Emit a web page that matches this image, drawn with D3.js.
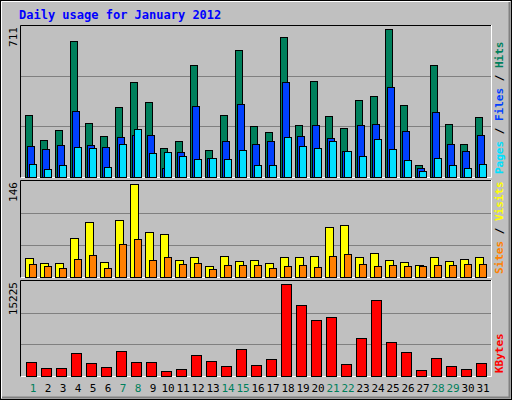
<!DOCTYPE html>
<html><head><meta charset="utf-8">
<script src="https://cdn.jsdelivr.net/npm/d3@7"></script>
<style>body{margin:0;background:#fff}</style>
</head><body>
<script>
// values
const days = d3.range(1, 32)
const weekend = [1,7,8,14,15,21,22,28,29]
const hits = [296,175,224,653,257,195,335,455,359,137,171,537,127,296,610,243,214,673,248,460,291,233,368,388,711,344,55,537,253,156,286]
const files = [146,132,151,315,151,142,190,200,200,40,117,340,88,171,349,156,171,455,195,248,185,122,248,253,431,219,40,311,156,122,200]
const pages = [60,35,55,142,137,45,156,228,113,117,98,84,88,84,127,55,55,190,146,137,171,122,98,180,132,79,26,88,55,40,60]
const visits = [29,21,21,61,86,23,89,146,70,67,26,31,16,32,24,26,21,31,31,32,78,81,31,37,26,23,18,31,24,27,31]
const sites = [20,16,13,27,34,13,51,59,26,31,20,21,12,18,18,18,13,16,18,15,32,35,20,16,18,16,16,18,18,20,20]
const kbytes = [2223,1223,1223,3723,2056,1389,4057,2223,2223,722,1056,3390,2390,1556,4390,1723,2723,15225,11725,9225,9725,1889,6224,12559,5557,3890,889,2890,1556,1056,2056]

const W = 512, H = 400
const svg = d3.select("body").append("svg").attr("width", W).attr("height", H)
const font = "'DejaVu Sans Mono', monospace"

svg.append("rect").attr("x",0).attr("y",0).attr("width",W).attr("height",H).attr("fill","#c0c0c0")
svg.append("rect").attr("x",0.5).attr("y",0.5).attr("width",W-1).attr("height",H-1).attr("fill","none").attr("stroke","#000")
svg.append("path").attr("d",`M1.5,${H-2}V1.5H${W-2}`).attr("fill","none").attr("stroke","#fff")
svg.append("path").attr("d",`M2,${H-2.5}H${W-2.5}V2`).attr("fill","none").attr("stroke","#808080").attr("stroke-width",2)

svg.append("text").attr("x",19).attr("y",19).attr("fill","#0000ff").attr("font-family",font)
  .attr("font-weight","bold").attr("font-size",12).text("Daily usage for January 2012")

const x = d3.scaleLinear().domain([1, 32]).range([25, 25 + 31*15])

function panel(y0, y1, max, label, series, rlabels){
  svg.append("rect").attr("x",20).attr("y",y0).attr("width",472).attr("height",y1-y0).attr("fill","#c0c0c0")
  svg.append("path").attr("d",`M20.5,${y1}V${y0+0.5}H492`).attr("fill","none").attr("stroke","#000")
  svg.append("path").attr("d",`M20.5,${y1-0.5}H491.5V${y0}`).attr("fill","none").attr("stroke","#fff")
  const base = y1 - 1.5
  const top = y0 + 4
  const y = d3.scaleLinear().domain([0, max]).range([base, top])
  const h = base - (y0 + 1)
  ;[1,2].forEach(k => svg.append("line").attr("x1",21).attr("x2",491)
    .attr("y1",Math.round(base - h*k/3)+0.5).attr("y2",Math.round(base - h*k/3)+0.5).attr("stroke","#808080"))
  series.forEach(s => {
    svg.append("g").selectAll("rect").data(s.data).join("rect")
      .attr("x",(d,i) => x(days[i]) + s.off + 0.5)
      .attr("y",d => Math.round(y(d)) + 0.5)
      .attr("width",s.w)
      .attr("height",d => Math.max(0, Math.round(base) - Math.round(y(d))))
      .attr("fill",s.color).attr("stroke","#000")
  })
  svg.append("text").attr("transform",`translate(17,${y0+2}) rotate(-90)`).attr("text-anchor","end")
    .attr("font-family",font).attr("font-size",11).text(label)
  const t = svg.append("text").attr("transform",`translate(503,${y1-4}) rotate(-90)`)
    .attr("font-family",font).attr("font-size",11).attr("font-weight","bold")
  rlabels.forEach((r,i) => {
    if(i) t.append("tspan").attr("fill","#000").text(" / ")
    t.append("tspan").attr("fill",r[1]).text(r[0])
  })
}

panel(25, 178, 711, "711", [
  {data:hits, color:"#00805c", off:0, w:7},
  {data:files, color:"#0040ff", off:2, w:7},
  {data:pages, color:"#00e0ff", off:4, w:7}
], [["Pages","#00e0ff"],["Files","#0040ff"],["Hits","#00805c"]])

panel(180, 278, 146, "146", [
  {data:visits, color:"#ffff00", off:0, w:8},
  {data:sites, color:"#ff8000", off:4, w:7}
], [["Sites","#ff8000"],["Visits","#ffff00"]])

panel(280, 377, 15225, "15225", [
  {data:kbytes, color:"#ff0000", off:1, w:10}
], [["KBytes","#ff0000"]])

svg.append("g").selectAll("text").data(days).join("text")
  .attr("x",d => x(d) + 8).attr("y",392).attr("text-anchor","middle")
  .attr("font-family",font).attr("font-size",11)
  .attr("fill",d => weekend.includes(d) ? "#00805c" : "#000")
  .text(d => d)
</script>
</body></html>
